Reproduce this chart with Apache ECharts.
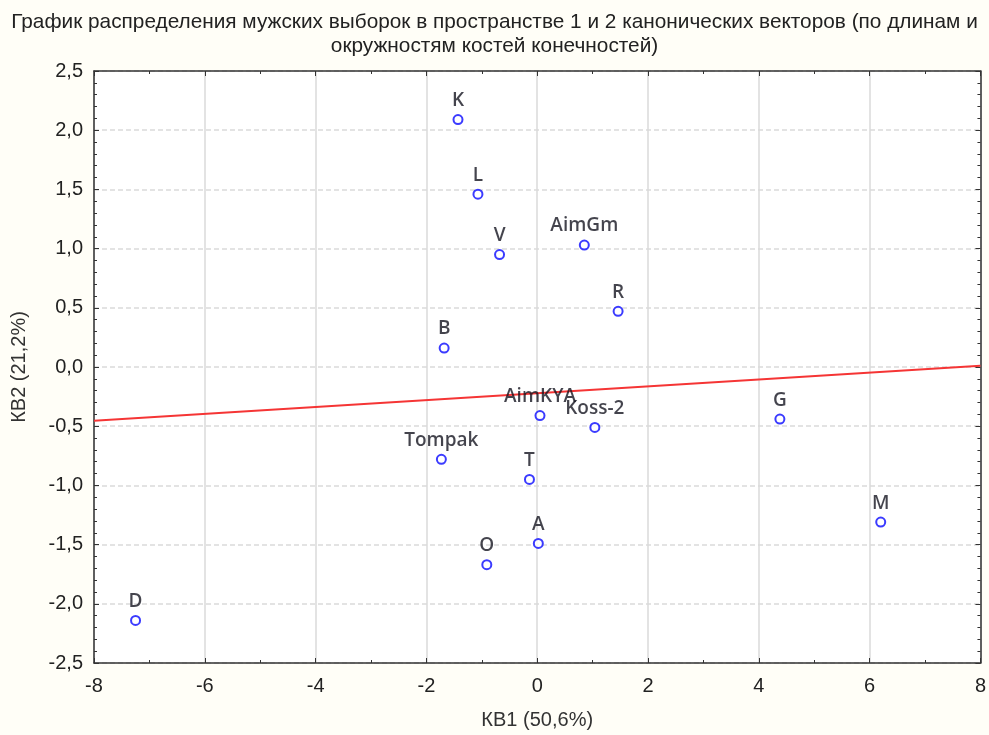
<!DOCTYPE html>
<html><head><meta charset="utf-8">
<script src="https://cdn.jsdelivr.net/npm/echarts@6/dist/echarts.min.js"></script>
<style>html,body{margin:0;padding:0;background:#fffef7;}#c{width:989px;height:735px;}</style>
</head><body><div id="c"></div>
<script>
const names = ['K','L','V','AimGm','R','B','AimKYA','Koss-2','Tompak','T','G','M','A','O','D'];
const kb1 = [-1.43,-1.07,-0.68,0.85,1.46,-1.68,0.05,1.04,-1.73,-0.14,4.38,6.2,0.02,-0.91,-7.25];
const kb2 = [2.09,1.46,0.95,1.03,0.47,0.16,-0.41,-0.51,-0.78,-0.95,-0.44,-1.31,-1.49,-1.67,-2.14];
const lineX = [-8, 8];
const lineY = [-0.455, 0.01];
const titleText = 'График распределения мужских выборок в пространстве 1 и 2 канонических векторов (по длинам и\nокружностям костей конечностей)';
const xName = 'КВ1 (50,6%)';
const yName = 'КВ2 (21,2%)';

const chart = echarts.init(document.getElementById('c'));
const fmt1 = v => v.toFixed(1).replace('.', ',');
const tickStyle = {show:true, inside:true, length:5, lineStyle:{color:'#333'}};
const minorStyle = {show:true, length:3, lineStyle:{color:'#333'}};
const axisLine = {show:true, onZero:false, lineStyle:{color:'#333', width:1.5}};
const font = 'Liberation Sans, Arial';
chart.setOption({
  backgroundColor:'#fffef7',
  animation:false,
  title:{text:titleText, left:'center', top:5, textStyle:{fontFamily:font, fontSize:20.8, fontWeight:'normal', color:'#222', lineHeight:24}},
  grid:{left:94, top:71, right:4, bottom:70, show:true, backgroundColor:'#ffffff', borderWidth:0},
  xAxis:[{
    type:'value', min:-8, max:8, interval:2, position:'bottom',
    name:xName, nameLocation:'middle', nameGap:47,
    nameTextStyle:{fontFamily:font, fontSize:20, color:'#333'},
    axisLine:axisLine, axisTick:tickStyle, minorTick:Object.assign({splitNumber:2}, minorStyle),
    axisLabel:{fontFamily:font, fontSize:20, color:'#222', margin:13},
    splitLine:{show:true, lineStyle:{color:'#dadada', width:1.5}}
  },{
    type:'value', min:-8, max:8, interval:2, position:'top',
    axisLine:axisLine, axisTick:tickStyle, minorTick:Object.assign({splitNumber:2}, minorStyle),
    axisLabel:{show:false}, splitLine:{show:false}
  }],
  yAxis:[{
    type:'value', min:-2.5, max:2.5, interval:0.5, position:'left',
    name:yName, nameLocation:'middle', nameGap:65, nameRotate:90,
    nameTextStyle:{fontFamily:font, fontSize:20, color:'#333'},
    axisLine:axisLine, axisTick:tickStyle, minorTick:Object.assign({splitNumber:5}, minorStyle),
    axisLabel:{fontFamily:font, fontSize:20, color:'#222', margin:11, formatter:fmt1},
    splitLine:{show:true, lineStyle:{color:'#dadada', width:1.5, type:[5,3]}}
  },{
    type:'value', min:-2.5, max:2.5, interval:0.5, position:'right',
    axisLine:axisLine, axisTick:tickStyle, minorTick:Object.assign({splitNumber:5}, minorStyle),
    axisLabel:{show:false}, splitLine:{show:false}
  }],
  series:[{
    type:'line', data:lineX.map((x,i)=>[x,lineY[i]]), symbol:'none',
    lineStyle:{color:'#f53535', width:2}, z:1, silent:true
  },{
    type:'scatter', data:kb1.map((x,i)=>[x,kb2[i],names[i]]),
    symbol:'circle', symbolSize:9,
    itemStyle:{color:'#ffffff', borderColor:'#0a0aff', borderWidth:2},
    label:{show:true, position:'top', distance:4, formatter:p=>p.data[2],
      fontFamily:'Open Sans, sans-serif', fontWeight:600, fontSize:19, color:'#151520'},
    z:3
  }]
});
</script></body></html>
